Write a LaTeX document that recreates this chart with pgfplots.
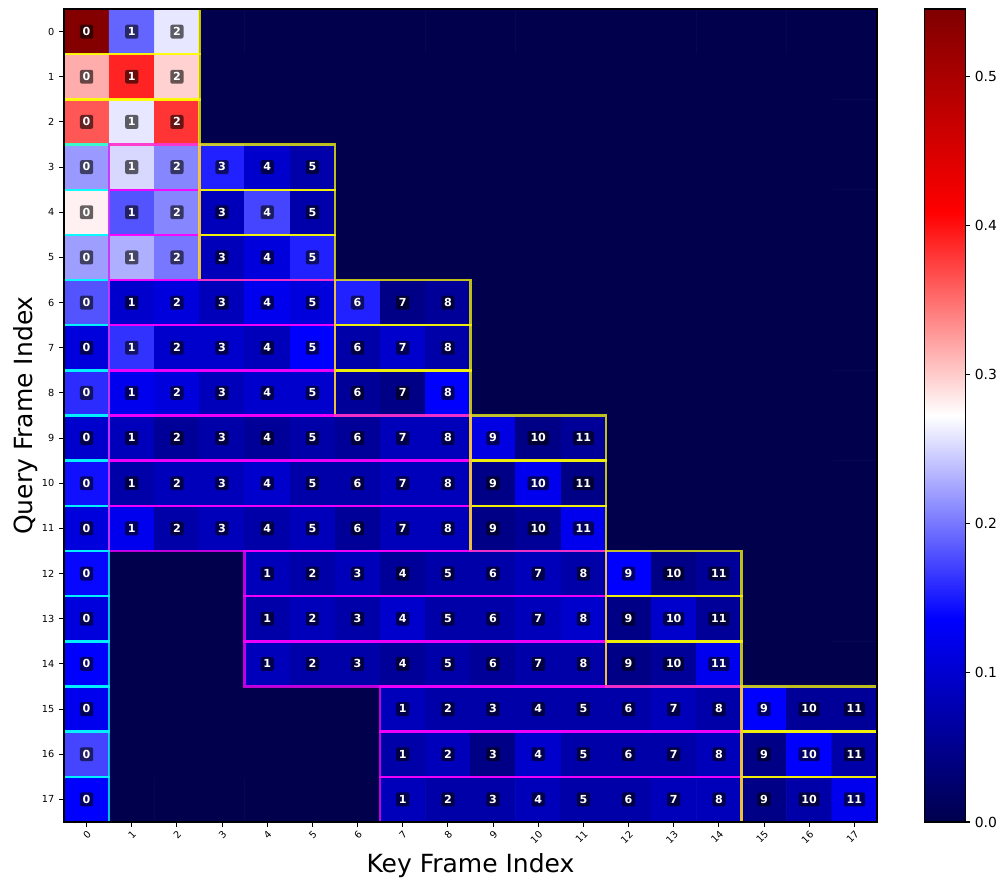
\documentclass[border=0pt]{standalone}
\usepackage{fontspec}
\setmainfont{DejaVu Sans}
\usepackage{pgfplots}
\usepackage{pgfplotstable}
\pgfplotsset{compat=1.18}
\usetikzlibrary{calc}

\definecolor{bcyan}{rgb}{0,1,1}
\definecolor{bmagenta}{rgb}{1,0,1}
\definecolor{byellow}{rgb}{1,1,0}

\pgfplotsset{
  colormap={seismic}{rgb=(0,0,0.3) rgb=(0,0,1) rgb=(1,1,1) rgb=(1,0,0) rgb=(0.5,0,0)},
}

% one cell outline per query row and block
\newcommand{\rbox}[5]{%
  \addplot[draw=#5, draw opacity=0.75, line width=1.7pt, line cap=rect,
    line join=miter, forget plot] coordinates {(#1,#3) (#2,#3) (#2,#4) (#1,#4) (#1,#3)};}

% x = key frame, y = query frame, v = attention (0 where masked)
\pgfplotstableread{
x y v
0 0 0.54
1 0 0.19
2 0 0.26
3 0 0
4 0 0
5 0 0
6 0 0
7 0 0
8 0 0
9 0 0
10 0 0
11 0 0
12 0 0
13 0 0
14 0 0
15 0 0
16 0 0
17 0 0
0 1 0.317
1 1 0.39
2 1 0.297
3 1 0
4 1 0
5 1 0
6 1 0
7 1 0
8 1 0
9 1 0
10 1 0
11 1 0
12 1 0
13 1 0
14 1 0
15 1 0
16 1 0
17 1 0
0 2 0.363
1 2 0.26
2 2 0.381
3 2 0
4 2 0
5 2 0
6 2 0
7 2 0
8 2 0
9 2 0
10 2 0
11 2 0
12 2 0
13 2 0
14 2 0
15 2 0
16 2 0
17 2 0
0 3 0.218
1 3 0.252
2 3 0.208
3 3 0.154
4 3 0.097
5 3 0.072
6 3 0
7 3 0
8 3 0
9 3 0
10 3 0
11 3 0
12 3 0
13 3 0
14 3 0
15 3 0
16 3 0
17 3 0
0 4 0.28
1 4 0.181
2 4 0.208
3 4 0.084
4 4 0.173
5 4 0.072
6 4 0
7 4 0
8 4 0
9 4 0
10 4 0
11 4 0
12 4 0
13 4 0
14 4 0
15 4 0
16 4 0
17 4 0
0 5 0.221
1 5 0.23
2 5 0.2
3 5 0.084
4 5 0.11
5 5 0.154
6 5 0
7 5 0
8 5 0
9 5 0
10 5 0
11 5 0
12 5 0
13 5 0
14 5 0
15 5 0
16 5 0
17 5 0
0 6 0.181
1 6 0.097
2 6 0.11
3 6 0.084
4 6 0.123
5 6 0.11
6 6 0.154
7 6 0.045
8 6 0.058
9 6 0
10 6 0
11 6 0
12 6 0
13 6 0
14 6 0
15 6 0
16 6 0
17 6 0
0 7 0.11
1 7 0.163
2 7 0.097
3 7 0.097
4 7 0.084
5 7 0.136
6 7 0.071
7 7 0.097
8 7 0.071
9 7 0
10 7 0
11 7 0
12 7 0
13 7 0
14 7 0
15 7 0
16 7 0
17 7 0
0 8 0.16
1 8 0.123
2 8 0.11
3 8 0.084
4 8 0.097
5 8 0.097
6 8 0.058
7 8 0.045
8 8 0.136
9 8 0
10 8 0
11 8 0
12 8 0
13 8 0
14 8 0
15 8 0
16 8 0
17 8 0
0 9 0.097
1 9 0.084
2 9 0.058
3 9 0.071
4 9 0.058
5 9 0.071
6 9 0.058
7 9 0.084
8 9 0.084
9 9 0.115
10 9 0.045
11 9 0.058
12 9 0
13 9 0
14 9 0
15 9 0
16 9 0
17 9 0
0 10 0.145
1 10 0.071
2 10 0.084
3 10 0.084
4 10 0.097
5 10 0.071
6 10 0.071
7 10 0.084
8 10 0.084
9 10 0.045
10 10 0.123
11 10 0.045
12 10 0
13 10 0
14 10 0
15 10 0
16 10 0
17 10 0
0 11 0.11
1 11 0.123
2 11 0.071
3 11 0.084
4 11 0.071
5 11 0.084
6 11 0.058
7 11 0.084
8 11 0.084
9 11 0.045
10 11 0.058
11 11 0.123
12 11 0
13 11 0
14 11 0
15 11 0
16 11 0
17 11 0
0 12 0.14
1 12 0
2 12 0
3 12 0
4 12 0.084
5 12 0.071
6 12 0.084
7 12 0.058
8 12 0.071
9 12 0.071
10 12 0.084
11 12 0.071
12 12 0.136
13 12 0.045
14 12 0.058
15 12 0
16 12 0
17 12 0
0 13 0.11
1 13 0
2 13 0
3 13 0
4 13 0.071
5 13 0.084
6 13 0.071
7 13 0.097
8 13 0.071
9 13 0.071
10 13 0.084
11 13 0.097
12 13 0.045
13 13 0.097
14 13 0.058
15 13 0
16 13 0
17 13 0
0 14 0.136
1 14 0
2 14 0
3 14 0
4 14 0.084
5 14 0.071
6 14 0.071
7 14 0.058
8 14 0.071
9 14 0.058
10 14 0.071
11 14 0.071
12 14 0.045
13 14 0.058
14 14 0.123
15 14 0
16 14 0
17 14 0
0 15 0.123
1 15 0
2 15 0
3 15 0
4 15 0
5 15 0
6 15 0
7 15 0.084
8 15 0.071
9 15 0.071
10 15 0.071
11 15 0.071
12 15 0.071
13 15 0.084
14 15 0.071
15 15 0.136
16 15 0.058
17 15 0.058
0 16 0.173
1 16 0
2 16 0
3 16 0
4 16 0
5 16 0
6 16 0
7 16 0.071
8 16 0.084
9 16 0.045
10 16 0.097
11 16 0.071
12 16 0.071
13 16 0.071
14 16 0.084
15 16 0.045
16 16 0.136
17 16 0.071
0 17 0.136
1 17 0
2 17 0
3 17 0
4 17 0
5 17 0
6 17 0
7 17 0.084
8 17 0.071
9 17 0.071
10 17 0.084
11 17 0.071
12 17 0.071
13 17 0.084
14 17 0.084
15 17 0.045
16 17 0.071
17 17 0.123
}\maindata

% labelled (unmasked) cells: x, y, key index within the window
\pgfplotstableread{
x y l
0 0 0
1 0 1
2 0 2
0 1 0
1 1 1
2 1 2
0 2 0
1 2 1
2 2 2
0 3 0
1 3 1
2 3 2
3 3 3
4 3 4
5 3 5
0 4 0
1 4 1
2 4 2
3 4 3
4 4 4
5 4 5
0 5 0
1 5 1
2 5 2
3 5 3
4 5 4
5 5 5
0 6 0
1 6 1
2 6 2
3 6 3
4 6 4
5 6 5
6 6 6
7 6 7
8 6 8
0 7 0
1 7 1
2 7 2
3 7 3
4 7 4
5 7 5
6 7 6
7 7 7
8 7 8
0 8 0
1 8 1
2 8 2
3 8 3
4 8 4
5 8 5
6 8 6
7 8 7
8 8 8
0 9 0
1 9 1
2 9 2
3 9 3
4 9 4
5 9 5
6 9 6
7 9 7
8 9 8
9 9 9
10 9 10
11 9 11
0 10 0
1 10 1
2 10 2
3 10 3
4 10 4
5 10 5
6 10 6
7 10 7
8 10 8
9 10 9
10 10 10
11 10 11
0 11 0
1 11 1
2 11 2
3 11 3
4 11 4
5 11 5
6 11 6
7 11 7
8 11 8
9 11 9
10 11 10
11 11 11
0 12 0
4 12 1
5 12 2
6 12 3
7 12 4
8 12 5
9 12 6
10 12 7
11 12 8
12 12 9
13 12 10
14 12 11
0 13 0
4 13 1
5 13 2
6 13 3
7 13 4
8 13 5
9 13 6
10 13 7
11 13 8
12 13 9
13 13 10
14 13 11
0 14 0
4 14 1
5 14 2
6 14 3
7 14 4
8 14 5
9 14 6
10 14 7
11 14 8
12 14 9
13 14 10
14 14 11
0 15 0
7 15 1
8 15 2
9 15 3
10 15 4
11 15 5
12 15 6
13 15 7
14 15 8
15 15 9
16 15 10
17 15 11
0 16 0
7 16 1
8 16 2
9 16 3
10 16 4
11 16 5
12 16 6
13 16 7
14 16 8
15 16 9
16 16 10
17 16 11
0 17 0
7 17 1
8 17 2
9 17 3
10 17 4
11 17 5
12 17 6
13 17 7
14 17 8
15 17 9
16 17 10
17 17 11
}\labeldata

\begin{document}
\begin{tikzpicture}
\begin{axis}[
  name=main,
  scale only axis,
  width=585.4pt, height=585.4pt,
  xmin=-0.5, xmax=17.5, ymin=-0.5, ymax=17.5,
  y dir=reverse,
  clip=false,
  axis on top,
  colormap name=seismic,
  point meta min=0, point meta max=0.545,
  xtick={0,...,17}, ytick={0,...,17},
  tick align=outside,
  major tick length=3.5pt,
  xtick pos=left, ytick pos=left,
  axis line style={line width=0.8pt},
  every tick/.style={black, line width=0.8pt},
  /pgf/number format/assume math mode=true,
  xticklabel style={font=\fontsize{7}{8}\selectfont, rotate=45, anchor=north east, inner sep=1.5pt},
  yticklabel style={font=\fontsize{7}{8}\selectfont},
  xlabel={Key Frame Index},
  ylabel={Query Frame Index},
  xlabel style={font=\fontsize{18}{20}\selectfont, at={(axis description cs:0.5,0)}, anchor=center, yshift=-31.7pt},
  ylabel style={font=\fontsize{18}{20}\selectfont, at={(axis description cs:0,0.5)}, anchor=center, yshift=28pt},
  colorbar,
  colorbar/width=29.5pt,
  colorbar style={
    scale only axis,
    xshift=24.6pt,
    width=29.5pt,
    ytick={0,0.1,0.2,0.3,0.4,0.5},
    ytick pos=right, yticklabel pos=right,
    tick align=outside,
    major tick length=3.5pt,
    axis line style={line width=0.8pt},
    every tick/.style={black, line width=0.8pt},
    yticklabel style={font=\fontsize{10}{12}\selectfont,
      /pgf/number format/.cd, fixed, fixed zerofill, precision=1, assume math mode=true},
  },
]
\addplot[matrix plot*, mesh/cols=18, point meta=explicit] table[x=x, y=y, meta=v] {\maindata};

% query rows 0-2
\rbox{-0.5}{2.5}{-0.5}{0.5}{byellow}
\rbox{-0.5}{2.5}{0.5}{1.5}{byellow}
\rbox{-0.5}{2.5}{1.5}{2.5}{byellow}
% query rows 3-5
\rbox{-0.5}{0.5}{2.5}{3.5}{bcyan}\rbox{0.5}{2.5}{2.5}{3.5}{bmagenta}\rbox{2.5}{5.5}{2.5}{3.5}{byellow}
\rbox{-0.5}{0.5}{3.5}{4.5}{bcyan}\rbox{0.5}{2.5}{3.5}{4.5}{bmagenta}\rbox{2.5}{5.5}{3.5}{4.5}{byellow}
\rbox{-0.5}{0.5}{4.5}{5.5}{bcyan}\rbox{0.5}{2.5}{4.5}{5.5}{bmagenta}\rbox{2.5}{5.5}{4.5}{5.5}{byellow}
% query rows 6-8
\rbox{-0.5}{0.5}{5.5}{6.5}{bcyan}\rbox{0.5}{5.5}{5.5}{6.5}{bmagenta}\rbox{5.5}{8.5}{5.5}{6.5}{byellow}
\rbox{-0.5}{0.5}{6.5}{7.5}{bcyan}\rbox{0.5}{5.5}{6.5}{7.5}{bmagenta}\rbox{5.5}{8.5}{6.5}{7.5}{byellow}
\rbox{-0.5}{0.5}{7.5}{8.5}{bcyan}\rbox{0.5}{5.5}{7.5}{8.5}{bmagenta}\rbox{5.5}{8.5}{7.5}{8.5}{byellow}
% query rows 9-11
\rbox{-0.5}{0.5}{8.5}{9.5}{bcyan}\rbox{0.5}{8.5}{8.5}{9.5}{bmagenta}\rbox{8.5}{11.5}{8.5}{9.5}{byellow}
\rbox{-0.5}{0.5}{9.5}{10.5}{bcyan}\rbox{0.5}{8.5}{9.5}{10.5}{bmagenta}\rbox{8.5}{11.5}{9.5}{10.5}{byellow}
\rbox{-0.5}{0.5}{10.5}{11.5}{bcyan}\rbox{0.5}{8.5}{10.5}{11.5}{bmagenta}\rbox{8.5}{11.5}{10.5}{11.5}{byellow}
% query rows 12-14
\rbox{-0.5}{0.5}{11.5}{12.5}{bcyan}\rbox{3.5}{11.5}{11.5}{12.5}{bmagenta}\rbox{11.5}{14.5}{11.5}{12.5}{byellow}
\rbox{-0.5}{0.5}{12.5}{13.5}{bcyan}\rbox{3.5}{11.5}{12.5}{13.5}{bmagenta}\rbox{11.5}{14.5}{12.5}{13.5}{byellow}
\rbox{-0.5}{0.5}{13.5}{14.5}{bcyan}\rbox{3.5}{11.5}{13.5}{14.5}{bmagenta}\rbox{11.5}{14.5}{13.5}{14.5}{byellow}
% query rows 15-17
\rbox{-0.5}{0.5}{14.5}{15.5}{bcyan}\rbox{6.5}{14.5}{14.5}{15.5}{bmagenta}\rbox{14.5}{17.5}{14.5}{15.5}{byellow}
\rbox{-0.5}{0.5}{15.5}{16.5}{bcyan}\rbox{6.5}{14.5}{15.5}{16.5}{bmagenta}\rbox{14.5}{17.5}{15.5}{16.5}{byellow}
\rbox{-0.5}{0.5}{16.5}{17.5}{bcyan}\rbox{6.5}{14.5}{16.5}{17.5}{bmagenta}\rbox{14.5}{17.5}{16.5}{17.5}{byellow}

% cell labels
\addplot[only marks, mark=none, forget plot,
  point meta=explicit symbolic,
  nodes near coords, nodes near coords align=center,
  every node near coord/.append style={font=\bfseries\fontsize{8}{8}\selectfont,
    text=white, fill=black, fill opacity=0.6, text opacity=1,
    rounded corners=1.5pt, inner xsep=2pt, inner ysep=1.6pt,
    text height=6.2pt, text depth=0.6pt, anchor=center}]
  table[x=x, y=y, meta=l] {\labeldata};
\end{axis}
\pgfresetboundingbox
\path[use as bounding box] ($(main.south west)+(-46.1pt,-48.2pt)$) rectangle ($(main.north east)+(92.2pt,6.5pt)$);
\end{tikzpicture}
\end{document}
